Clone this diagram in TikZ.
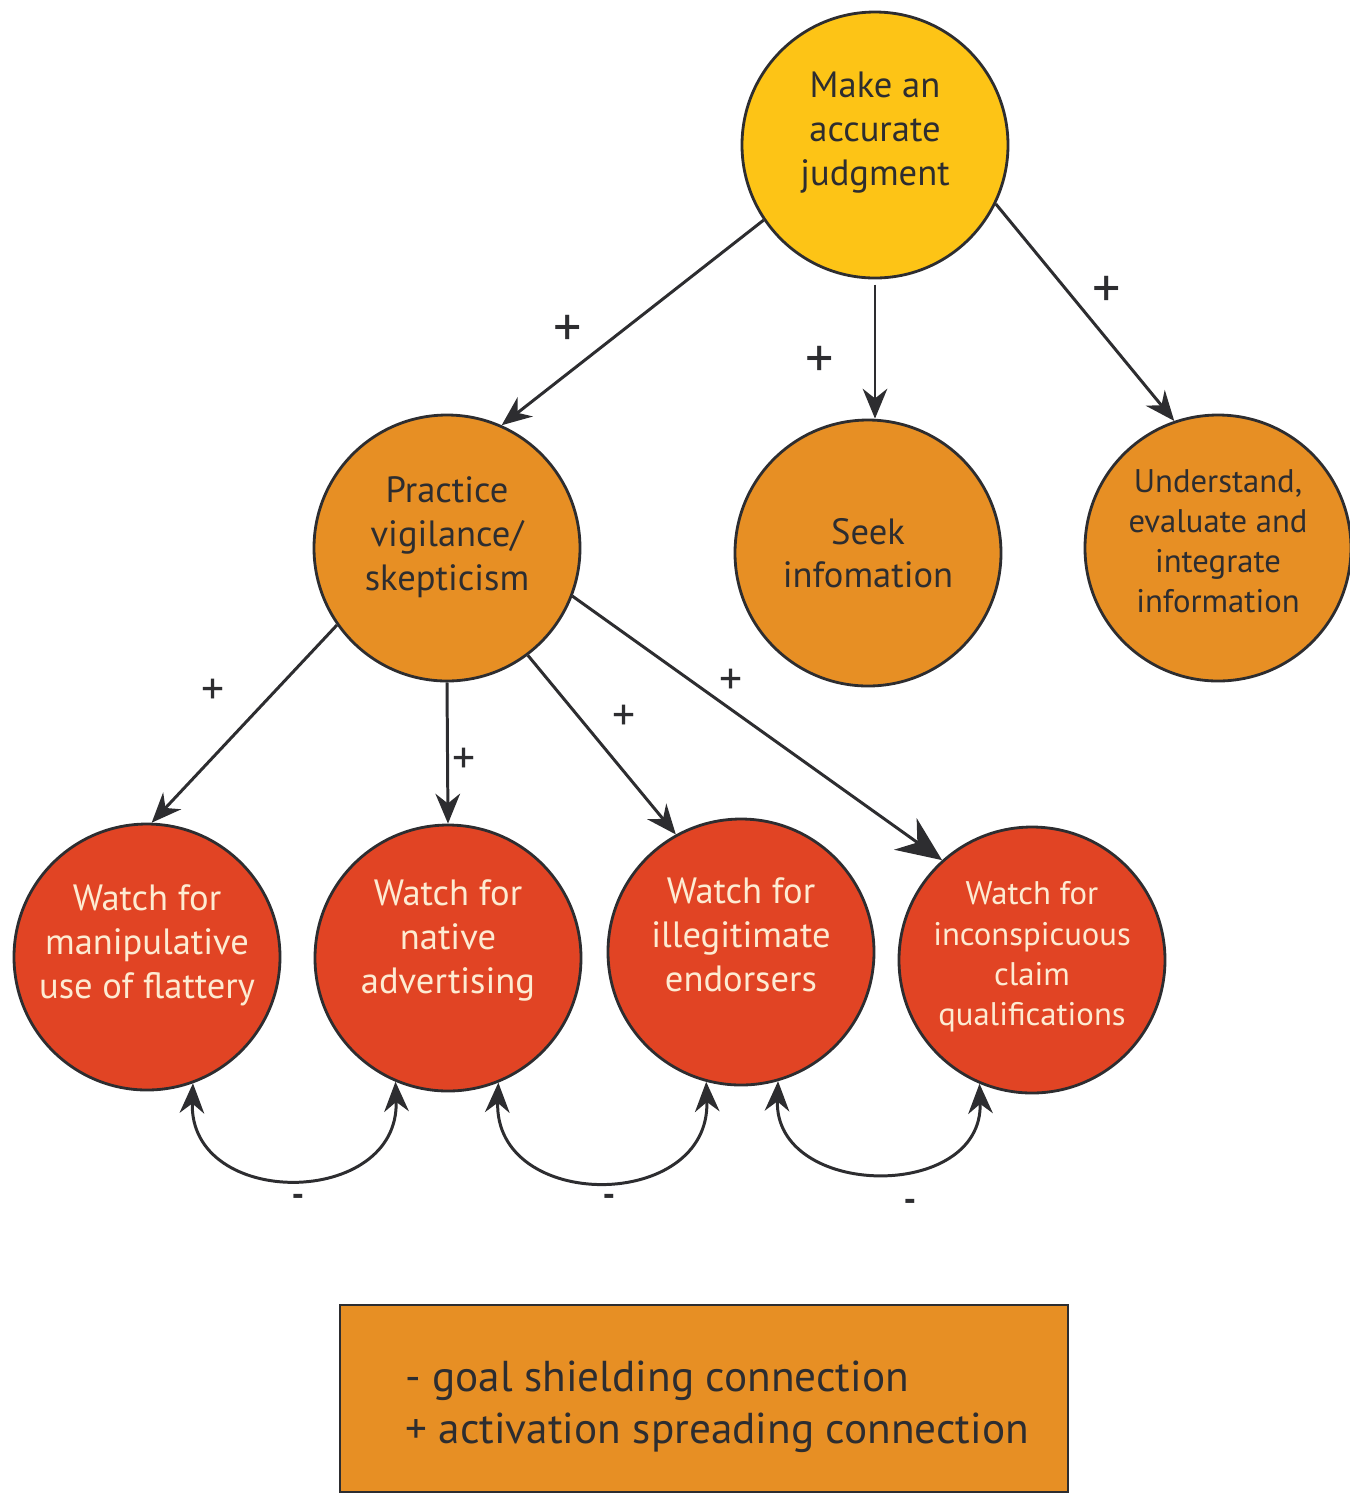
\documentclass[tikz,border=0pt]{standalone}
\usepackage{fontspec}
\setmainfont{PT Sans}
\usepackage{tikz}
\usetikzlibrary{arrows.meta,positioning}
\definecolor{judgeyellow}{RGB}{253,196,22}
\definecolor{goalorange}{RGB}{231,143,36}
\definecolor{watchred}{RGB}{225,68,36}
\definecolor{inkgray}{RGB}{45,45,48}
\definecolor{creamtext}{RGB}{253,235,210}

\begin{document}
\begin{tikzpicture}[>={Stealth[length=8.5pt,width=7pt]},
  goal/.style={circle, draw=inkgray, line width=0.8pt, minimum size=2.66cm, inner sep=0pt, align=center, text=inkgray, font=\fontsize{10.4}{12.5}\selectfont},
  small/.style={font=\fontsize{9.3}{11.4}\selectfont},
  lift/.style={text depth=#1},
  topgoal/.style={goal, fill=judgeyellow},
  subgoal/.style={goal, fill=goalorange},
  watch/.style={goal, fill=watchred, text=creamtext},
  link/.style={line width=0.85pt, draw=inkgray, ->},
  shield/.style={line width=0.85pt, draw=inkgray, <->},
  sign/.style={text=inkgray, font=\fontsize{16}{16}\selectfont},
  subsign/.style={sign, font=\fontsize{13}{13}\selectfont},
  minus/.style={sign, font=\bfseries}]
  \useasboundingbox (0,0) rectangle (13.5,-14.94);
        \path
        (8.75,-1.45)  coordinate (c-judge)
        (4.47,-5.48)  coordinate (c-vigil)
        (8.68,-5.53)  coordinate (c-seek)
        (12.18,-5.48) coordinate (c-integrate)
        (1.47,-9.57)  coordinate (c-flattery)
        (4.48,-9.58)  coordinate (c-native)
        (7.41,-9.52)  coordinate (c-endorse)
        (10.32,-9.60) coordinate (c-claim)
        ;

        % goal hierarchy
        \node[topgoal, lift=0.33cm] (judge) at (c-judge) {Make an\\accurate\\judgment};
        \node[subgoal, lift=0.29cm] (vigil) at (c-vigil) {Practice\\vigilance/\\skepticism};
        \node[subgoal, lift=-0.14cm] (seek) at (c-seek) {Seek\\infomation};
        \node[subgoal, small, lift=0.14cm] (integrate) at (c-integrate) {Understand,\\evaluate and\\integrate\\information};
        \node[watch, lift=0.31cm] (flattery) at (c-flattery) {Watch for\\manipulative\\use of flattery};
        \node[watch, lift=0.43cm] (native) at (c-native) {Watch for\\native\\advertising};
        \node[watch, lift=0.34cm] (endorse) at (c-endorse) {Watch for\\illegitimate\\endorsers};
        \node[watch, small, lift=0.13cm] (claim) at (c-claim) {Watch for\\inconspicuous\\claim\\qualifications};

        \draw[link] (judge.214.6) -- (vigil.66.6);
        \draw[link, shorten <=1.5pt] (judge.south) -- (judge.south |- seek.north);
        \draw[link] (judge.-26.7) -- (integrate.109.8);

        \draw[link] (vigil.215) -- (flattery.88.7);
        \draw[link] (vigil.south) -- (native.north);
        \draw[link] (vigil.-53) -- (endorse.119);
        \draw[link, >={Stealth[length=12.8pt,width=11pt]}] (vigil.-21.8) -- (claim.132.7);

        \draw[shield] (flattery.-70) to[out=-92, in=-88, looseness=1.6] (native.-113);
        \draw[shield] (native.-68) to[out=-92, in=-88, looseness=1.6] (endorse.-105);
        \draw[shield] (endorse.-74) to[out=-92, in=-88, looseness=1.5] (claim.-113);

        % signs
        \node[sign] (p-vigil) at (5.68,-3.31) {+};
        \node[sign] (p-seek) at (8.20,-3.62) {+};
        \node[sign] (p-integrate) at (11.07,-2.92) {+};
        \node[subsign] (p-flattery) at (2.13,-6.92) {+};
        \node[subsign] (p-native) at (4.64,-7.61) {+};
        \node[subsign] (p-endorse) at (6.24,-7.18) {+};
        \node[subsign] (p-claim) at (7.31,-6.82) {+};
        \node[minus] (m-flattery) at (2.98,-12.00) {-};
        \node[minus] (m-native) at (6.09,-12.00) {-};
        \node[minus] (m-endorse) at (9.10,-12.05) {-};

        % legend
        \node[draw=inkgray, line width=0.6pt, fill=goalorange, minimum width=7.28cm, minimum height=1.87cm, inner sep=0pt] (legend) at (7.04,-13.985) {};
        \node[anchor=west, align=left, text=inkgray, font=\fontsize{12.3}{14.8}\selectfont] (legend-text) at (3.93,-14.07) {- goal shielding connection\\+ activation spreading connection};
\end{tikzpicture}
\end{document}
